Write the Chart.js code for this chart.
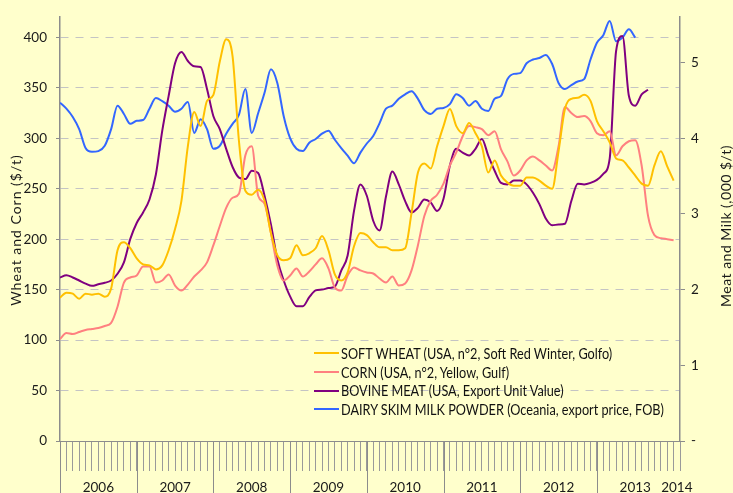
<!DOCTYPE html>
<html>
<head>
<meta charset="utf-8">
<script src="https://cdn.jsdelivr.net/npm/chart.js@4.4.1/dist/chart.umd.min.js"></script>
<style>
  html, body { margin: 0; padding: 0; background: #ffffcc; }
  #wrap { position: relative; width: 733px; height: 493px; }
  #legend {
    position: absolute; left: 314px; top: 344px;
    font: 14.5px Lato, 'Liberation Sans', sans-serif; color: #111;
  }
  #legend .row { display: flex; align-items: center; height: 18.7px; white-space: nowrap; }
  #legend .sw { width: 25px; height: 2px; margin-right: 2px; flex: none; }
  #legend .txt { display: inline-block; transform: scaleX(0.875); transform-origin: left center; }
</style>
</head>
<body>
<div id="wrap">
  <canvas id="chart" width="733" height="493"></canvas>
  <div id="legend"></div>
</div>
<script>
// monthly, Jan 2006 .. Jan 2014
const years = ['2006', '2007', '2008', '2009', '2010', '2011', '2012', '2013', '2014'];

// $/t
const wheat = [
  142, 147, 146, 141, 146, 145, 146, 143, 151, 189,
  197, 191, 181, 175, 174, 170, 174, 189, 210, 238,
  292, 326, 312, 337, 343, 376, 398, 381, 297, 248,
  244, 249, 238, 206, 184, 179, 181, 194, 184, 186,
  191, 203, 189, 165, 159, 167, 193, 206, 204, 197,
  192, 192, 189, 189, 191, 226, 266, 275, 270, 292,
  312, 329, 312, 305, 315, 305, 292, 266, 278, 263,
  256, 253, 253, 261, 261, 258, 253, 250, 287, 329,
  339, 340, 343, 337, 317, 307, 296, 280, 278, 271,
  263, 255, 253, 273, 287, 272, 258
];
const corn = [
  101, 107, 106, 108, 110, 111, 112, 114, 117, 133,
  157, 162, 164, 173, 173, 157, 159, 165, 154, 149,
  155, 163, 169, 177, 194, 213, 231, 241, 245, 283,
  292, 243, 235, 206, 174, 159, 164, 171, 163, 168,
  175, 181, 171, 152, 149, 164, 172, 169, 167, 166,
  161, 157, 163, 154, 156, 169, 194, 223, 238, 244,
  255, 273, 286, 302, 312, 311, 309, 303, 307, 289,
  277, 263, 268, 278, 282, 278, 273, 268, 292, 331,
  325, 321, 322, 317, 305, 303, 307, 283, 292, 297,
  298, 273, 223, 204, 201, 200, 199
];
// ,000 $/t
const meat = [
  2.16, 2.19, 2.16, 2.12, 2.08, 2.05, 2.07, 2.09, 2.12, 2.21,
  2.36, 2.67, 2.88, 3.02, 3.19, 3.52, 4.10, 4.56, 4.99, 5.14,
  5.02, 4.95, 4.94, 4.65, 4.29, 4.12, 3.86, 3.62, 3.48, 3.46,
  3.57, 3.54, 3.24, 2.86, 2.40, 2.12, 1.91, 1.78, 1.78, 1.90,
  1.99, 2.00, 2.02, 2.04, 2.25, 2.45, 3.04, 3.39, 3.24, 2.91,
  2.78, 3.23, 3.56, 3.39, 3.17, 3.02, 3.08, 3.19, 3.15, 3.04,
  3.20, 3.64, 3.86, 3.81, 3.77, 3.86, 3.99, 3.77, 3.57, 3.41,
  3.39, 3.44, 3.44, 3.39, 3.28, 3.13, 2.94, 2.85, 2.86, 2.87,
  3.17, 3.40, 3.39, 3.41, 3.45, 3.53, 3.73, 5.15, 5.35, 4.56,
  4.43, 4.58, 4.64, null, null, null, null
];
const milk = [
  4.47, 4.39, 4.28, 4.12, 3.87, 3.82, 3.83, 3.90, 4.12, 4.43,
  4.32, 4.19, 4.23, 4.24, 4.39, 4.53, 4.49, 4.43, 4.35, 4.39,
  4.48, 4.07, 4.25, 4.12, 3.86, 3.90, 4.06, 4.19, 4.31, 4.65,
  4.07, 4.33, 4.60, 4.91, 4.73, 4.29, 4.00, 3.86, 3.83, 3.94,
  3.99, 4.06, 4.10, 3.98, 3.87, 3.77, 3.67, 3.81, 3.93, 4.03,
  4.20, 4.39, 4.43, 4.52, 4.58, 4.62, 4.52, 4.37, 4.32, 4.39,
  4.40, 4.45, 4.58, 4.53, 4.43, 4.49, 4.39, 4.36, 4.52, 4.56,
  4.78, 4.85, 4.86, 4.99, 5.04, 5.06, 5.10, 4.98, 4.73, 4.65,
  4.70, 4.75, 4.78, 5.04, 5.26, 5.36, 5.55, 5.28, 5.33, 5.44,
  5.33, null, null, null, null, null, null
];

const seriesNames = [
  'SOFT WHEAT (USA, n°2, Soft Red Winter, Golfo)',
  'CORN (USA, n°2, Yellow, Gulf)',
  'BOVINE MEAT (USA, Export Unit Value)',
  'DAIRY SKIM MILK POWDER (Oceania, export price, FOB)'
];
const seriesColors = ['#ffc000', '#ff8080', '#800080', '#3366ff'];
const leftTitle = 'Wheat and Corn ($/t)';
const rightTitle = 'Meat and Milk (,000 $/t)';

const FONT = "Lato, 'Liberation Sans', sans-serif";
const AXIS = '#8c8c8c';
Chart.defaults.font.family = FONT;
Chart.defaults.color = '#1a1a1a';

// year separators under the axis + rotated, letter-spaced axis titles
const axisExtras = {
  id: 'axisExtras',
  afterDraw(chart) {
    const { ctx, chartArea, scales } = chart;
    ctx.save();
    ctx.strokeStyle = AXIS;
    ctx.lineWidth = 1;
    for (let y = 0; y < years.length - 1; y++) {
      const x = Math.round(scales.x.getPixelForValue(y * 12)) + 0.5;
      ctx.beginPath();
      ctx.moveTo(x, chartArea.bottom);
      ctx.lineTo(x, chart.height);
      ctx.stroke();
    }
    ctx.fillStyle = '#1a1a1a';
    ctx.font = '14px ' + FONT;
    ctx.textAlign = 'center';
    ctx.textBaseline = 'middle';
    ctx.save();
    ctx.letterSpacing = '1px';
    ctx.translate(16, 230);
    ctx.rotate(-Math.PI / 2);
    ctx.fillText(leftTitle, 0, 0);
    ctx.restore();
    ctx.letterSpacing = '0.5px';
    ctx.translate(726, 226);
    ctx.rotate(-Math.PI / 2);
    ctx.fillText(rightTitle, 0, 0);
    ctx.restore();
  }
};

const mkSet = (i, data, axis) => ({
  label: seriesNames[i],
  data: data,
  yAxisID: axis,
  borderColor: seriesColors[i],
  backgroundColor: seriesColors[i],
  borderWidth: 2,
  pointRadius: 0,
  cubicInterpolationMode: 'monotone',
  spanGaps: false
});

const chart = new Chart(document.getElementById('chart'), {
  type: 'line',
  data: {
    labels: wheat.map((_, i) => i),
    datasets: [
      mkSet(0, wheat, 'y'),
      mkSet(1, corn, 'y'),
      mkSet(2, meat, 'y1'),
      mkSet(3, milk, 'y1')
    ]
  },
  options: {
    responsive: false,
    animation: false,
    layout: { padding: { top: 16 } },
    plugins: {
      legend: { display: false },
      tooltip: { enabled: false }
    },
    scales: {
      x: {
        type: 'linear',
        min: 0,
        max: 97,
        afterFit: (s) => { s.height = 52; },
        afterBuildTicks: (s) => {
          const t = [];
          for (let m = 0; m <= 97; m++) t.push({ value: m });
          t.push({ value: 96.5 });
          s.ticks = t.sort((a, b) => a.value - b.value);
        },
        border: { color: AXIS, width: 1 },
        grid: {
          drawOnChartArea: false,
          tickLength: 30,
          tickColor: (c) => (c.tick && c.tick.value === 96.5 ? 'rgba(0,0,0,0)' : '#9a9a9a')
        },
        ticks: {
          autoSkip: false,
          maxRotation: 0,
          padding: 9,
          font: { size: 13.5 },
          callback: (v) => {
            if (v === 96.5) return years[8];
            if (v % 12 === 6) return years[v / 12 | 0];
            return '';
          }
        }
      },
      y: {
        position: 'left',
        min: 0,
        max: 420,
        afterFit: (s) => { s.width = 60; },
        afterBuildTicks: (s) => { s.ticks = s.ticks.filter(t => t.value <= 400); },
        border: { color: AXIS, width: 1.5, dash: [8, 7] },
        grid: { color: '#c4c4c4', lineWidth: 1, tickLength: 4, tickColor: AXIS },
        ticks: { stepSize: 50, padding: 9, font: { size: 13.5 } }
      },
      y1: {
        position: 'right',
        min: 0,
        max: 5.6,
        afterFit: (s) => { s.width = 53; },
        afterBuildTicks: (s) => { s.ticks = s.ticks.filter(t => t.value <= 5); },
        border: { color: AXIS, width: 1.5 },
        grid: { drawOnChartArea: false, tickLength: 5, tickColor: AXIS },
        ticks: {
          stepSize: 1, padding: 6, font: { size: 13.5 },
          callback: (v) => (v === 0 ? '-' : v)
        }
      }
    }
  },
  plugins: [axisExtras]
});

// legend inside the plot, lower right
const legendEl = document.getElementById('legend');
chart.data.datasets.forEach((ds) => {
  const row = document.createElement('div');
  row.className = 'row';
  const sw = document.createElement('span');
  sw.className = 'sw';
  sw.style.background = ds.borderColor;
  const txt = document.createElement('span');
  txt.className = 'txt';
  txt.textContent = ds.label;
  row.appendChild(sw);
  row.appendChild(txt);
  legendEl.appendChild(row);
});
</script>
</body>
</html>
